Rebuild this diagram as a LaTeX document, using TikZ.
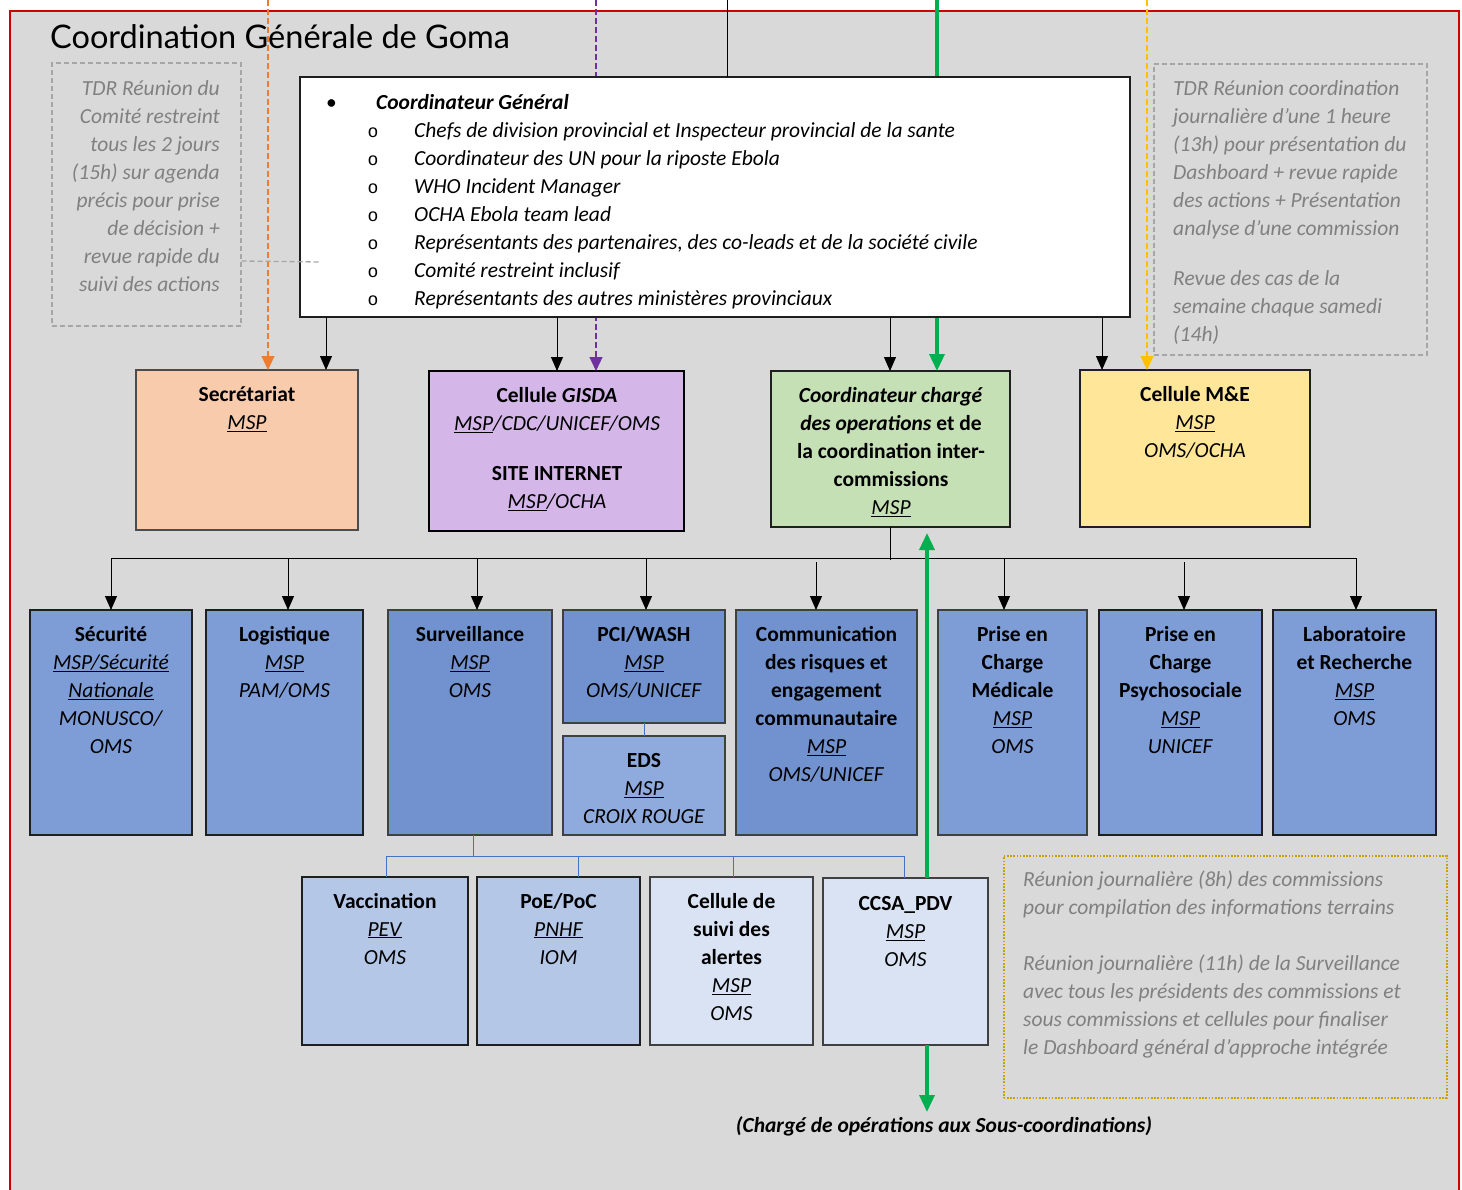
\documentclass[tikz,border=0pt]{standalone}
\usepackage{fontspec}
\setmainfont{Carlito}
\newfontfamily\titlefont{Lato}
\newfontfamily\monof{Liberation Mono}
\usetikzlibrary{arrows.meta,calc}
\definecolor{bgg}{HTML}{D9D9D9}
\definecolor{redb}{HTML}{D00000}
\definecolor{orl}{HTML}{ED7D31}
\definecolor{pul}{HTML}{7030A0}
\definecolor{grl}{HTML}{00B050}
\definecolor{yel}{HTML}{FFC000}
\definecolor{dashg}{HTML}{A6A6A6}
\definecolor{txtg}{HTML}{808080}
\definecolor{gold}{HTML}{C9A000}
\definecolor{bll}{HTML}{4472C4}
\definecolor{fsec}{HTML}{F8CBAD}
\definecolor{fgis}{HTML}{D4B6E9}
\definecolor{fcoc}{HTML}{C5E0B4}
\definecolor{fme}{HTML}{FFE699}
\definecolor{fdark}{HTML}{7192CE}
\definecolor{flight}{HTML}{7E9DD6}
\definecolor{feds}{HTML}{8FAADC}
\definecolor{fmid}{HTML}{B4C7E7}
\definecolor{fpale}{HTML}{DAE3F3}
\newcommand\mkbox[6]{\node[boxst,#6,minimum width={#4-#2},minimum height={#5-#3}] (#1) at (#2,#3) {};}
\newcommand\ul[1]{\underline{\textit{#1}}}
\newcommand\subb{\hspace*{40pt}\makebox[48pt][l]{\hspace*{1.5pt}\monof\fontsize{18}{28}\selectfont o}}
\begin{document}
\begin{tikzpicture}[x=1pt,y=-1pt,
  boxst/.style={draw=black!88, line width=1.8pt, anchor=north west, inner sep=0pt, outer sep=0pt},
  txt/.style={anchor=north, align=center, inner sep=0pt, font=\fontsize{21.5}{28}\selectfont},
  gtxt/.style={inner sep=0pt, text=txtg, font=\fontsize{21.5}{28}\selectfont\itshape},
  arr/.style={draw=black, line width=1pt, -{Triangle[length=14pt,width=12pt]}},
  garr/.style={draw=grl, line width=3.5pt, -{Triangle[length=17pt,width=15pt]}},
  dashl/.style={line width=1.1pt, dash pattern=on 6pt off 3pt, -{Triangle[length=14pt,width=13pt]}},
  graybox/.style={draw=dashg, line width=1.6pt, dash pattern=on 5pt off 3pt},
  bline/.style={draw=bll, line width=1pt}]
\useasboundingbox (0,0) rectangle (1462,1189);
\fill[white] (0,0) rectangle (1462,1189);
\fill[bgg] (10,11) rectangle (1459,1195);
\draw[redb, line width=2.6pt] (10,1195) -- (10,11) -- (1459,11) -- (1459,1195);

% title
\node[anchor=base west, inner sep=0pt, font=\titlefont\fontsize{32.5}{38}\selectfont] (title) at (50,48) {Coordination Générale de Goma};

% free ends at top
\coordinate (tO) at (268,0);
\coordinate (tP) at (596,0);
\coordinate (tK) at (727,0);
\coordinate (tG) at (937,0);
\coordinate (tY) at (1147,0);

% second-row boxes
\mkbox{sec}{136}{370}{358}{530}{fill=fsec, draw=black!70, line width=1.3pt}
\mkbox{gis}{429}{371}{684}{531}{fill=fgis, line width=2.4pt, draw=black}
\mkbox{coc}{771}{371}{1010}{527}{fill=fcoc}
\mkbox{me}{1080}{370}{1310}{527}{fill=fme}

% lines from top (behind main box)
\draw[dashl, orl] (tO) -- ($(sec.north west)+(132,0)$);
\draw[dashl, pul] (tP) -- ($(gis.north west)+(167,0)$);
\draw[garr] (tG) -- ($(coc.north west)+(166,0)$);
\draw[dashl, yel] (tY) -- ($(me.north west)+(67,0)$);

% main box
\mkbox{cg}{300}{77}{1130}{317}{fill=white, line width=1.4pt}
\draw[black, line width=1pt] (tK) -- ($(cg.north west)+(427,0)$);
\node[anchor=north west, align=left, inner sep=0pt, font=\fontsize{21.5}{28}\selectfont] (cgT) at (326,89.4) {%
\strut\makebox[50pt][l]{\textbullet}\textbf{\textit{Coordinateur Général}}\\
\subb\textit{Chefs de division provincial et Inspecteur provincial de la sante}\\
\subb\textit{Coordinateur des UN pour la riposte Ebola}\\
\subb\textit{WHO Incident Manager}\\
\subb\textit{OCHA Ebola team lead}\\
\subb\textit{Représentants des partenaires, des co-leads et de la société civile}\\
\subb\textit{Comité restreint inclusif}\\
\subb\textit{Représentants des autres ministères provinciaux}};

% arrows main box -> row 2
\draw[arr] ($(cg.south west)+(26,0)$) -- ($(sec.north west)+(190,0)$);
\draw[arr] ($(cg.south west)+(257,0)$) -- ($(gis.north west)+(128,0)$);
\draw[arr] ($(cg.south west)+(590,0)$) -- ($(coc.north west)+(119,0)$);
\draw[arr] ($(cg.south west)+(802,0)$) -- ($(me.north west)+(22,0)$);

% left dashed note
\node[graybox, anchor=north west, minimum width=189, minimum height=263, inner sep=0pt] (lnote) at (51,62) {};
\node[gtxt, anchor=north east, align=right] (lnoteT) at (220,75.4) {\strut TDR Réunion du\\Comité restreint\\tous les 2 jours\\(15h) sur agenda\\précis pour prise\\de décision +\\revue rapide du\\suivi des actions};
\draw[draw=dashg, line width=1.3pt, dash pattern=on 5pt off 3pt] ($(lnote.north east)+(0,199)$) -- ($(cg.north west)+(20,185)$);

% right dashed note
\node[graybox, anchor=north west, minimum width=273, minimum height=291, inner sep=0pt] (rnote) at (1153,63) {};
\node[gtxt, anchor=north west, align=left] (rnoteT) at (1173,75.4) {\strut TDR Réunion coordination\\journalière d’une 1 heure\\(13h) pour présentation du\\Dashboard + revue rapide\\des actions + Présentation\\analyse d’une commission\\[22pt]Revue des cas de la\\semaine chaque samedi\\(14h)};

% row 2 texts
\node[txt] (secT) at (247,381.4) {\strut\textbf{Secrétariat}\\\ul{MSP}};
\node[txt] (gisT) at (557,382.4) {\strut\textbf{Cellule \textit{GISDA}}\\\ul{MSP}\textit{/CDC/UNICEF/OMS}\\[22pt]\textbf{SITE INTERNET}\\\ul{MSP}\textit{/OCHA}};
\node[txt] (cocT) at (891,382.4) {\strut\textbf{\textit{Coordinateur chargé}}\\\textbf{\textit{des operations} et de}\\\textbf{la coordination inter-}\\\textbf{commissions}\\\ul{MSP}};
\node[txt] (meT) at (1195,381.4) {\strut\textbf{Cellule M\&E}\\\ul{MSP}\\\textit{OMS/OCHA}};

% row 3 boxes
\mkbox{sect}{30}{610}{192}{835}{fill=flight}
\mkbox{log}{206}{610}{363}{835}{fill=flight}
\mkbox{surv}{388}{610}{552}{835}{fill=fdark, draw=black!75, line width=1.4pt}
\mkbox{pci}{563}{610}{725}{723}{fill=fdark, draw=black!75, line width=1.4pt}
\mkbox{eds}{563}{736}{725}{835}{fill=feds, draw=black!75, line width=1.4pt}
\mkbox{com}{736}{610}{917}{835}{fill=fdark, draw=black!75, line width=1.4pt}
\mkbox{pcm}{938}{610}{1087}{835}{fill=flight, draw=black!75, line width=1.4pt}
\mkbox{psy}{1099}{610}{1262}{835}{fill=flight}
\mkbox{lab}{1273}{610}{1436}{835}{fill=flight}

% bus
\coordinate (busL) at (111,558);
\coordinate (busR) at (1356,558);
\draw[black, line width=1pt] ($(coc.south west)+(119,0)$) -- ++(0,33);
\draw[black, line width=1pt] (busL) -- (busR);
\draw[arr] (busL) -- ($(sect.north west)+(81,0)$);
\draw[arr] ($(log.north west)+(82,-52)$) -- ($(log.north west)+(82,0)$);
\draw[arr] ($(surv.north west)+(89,-52)$) -- ($(surv.north west)+(89,0)$);
\draw[arr] ($(pci.north west)+(83,-52)$) -- ($(pci.north west)+(83,0)$);
\draw[arr] ($(com.north west)+(80,-48)$) -- ($(com.north west)+(80,0)$);
\draw[arr] ($(pcm.north west)+(66,-52)$) -- ($(pcm.north west)+(66,0)$);
\draw[arr] ($(psy.north west)+(85,-48)$) -- ($(psy.north west)+(85,0)$);
\draw[arr] (busR) -- ($(lab.north west)+(83,0)$);
\draw[bline] (pci.south) -- (eds.north);

% row 3 texts
\node[txt] (sectT) at (111,621.4) {\strut\textbf{Sécurité}\\\ul{MSP/Sécurité}\\\ul{Nationale}\\\textit{MONUSCO/}\\\textit{OMS}};
\node[txt] (logT) at (284.5,621.4) {\strut\textbf{Logistique}\\\ul{MSP}\\\textit{PAM/OMS}};
\node[txt] (survT) at (470,621.4) {\strut\textbf{Surveillance}\\\ul{MSP}\\\textit{OMS}};
\node[txt] (pciT) at (644,621.4) {\strut\textbf{PCI/WASH}\\\ul{MSP}\\\textit{OMS/UNICEF}};
\node[txt] (edsT) at (644,747.4) {\strut\textbf{EDS}\\\ul{MSP}\\\textit{CROIX ROUGE}};
\node[txt] (comT) at (826.5,621.4) {\strut\textbf{Communication}\\\textbf{des risques et}\\\textbf{engagement}\\\textbf{communautaire}\\\ul{MSP}\\\textit{OMS/UNICEF}};
\node[txt] (pcmT) at (1012.5,621.4) {\strut\textbf{Prise en}\\\textbf{Charge}\\\textbf{Médicale}\\\ul{MSP}\\\textit{OMS}};
\node[txt] (psyT) at (1180.5,621.4) {\strut\textbf{Prise en}\\\textbf{Charge}\\\textbf{Psychosociale}\\\ul{MSP}\\\textit{UNICEF}};
\node[txt] (labT) at (1354.5,621.4) {\strut\textbf{Laboratoire}\\\textbf{et Recherche}\\\ul{MSP}\\\textit{OMS}};

% row 4 boxes
\mkbox{vac}{302}{877}{468}{1045}{fill=fmid}
\mkbox{poe}{477}{877}{640}{1045}{fill=fmid}
\mkbox{csa}{650}{877}{813}{1045}{fill=fpale, draw=black!75, line width=1.4pt}
\mkbox{ccsa}{823}{878}{988}{1045}{fill=fpale, draw=black!75, line width=1.4pt}
\draw[bline] ($(surv.south west)+(85,0)$) -- ++(0,21);
\draw[bline] ($(vac.north west)+(84,0)$) |- ($(ccsa.north west)+(81,-22)$) -- ($(ccsa.north west)+(81,0)$);
\draw[bline] ($(poe.north west)+(101,-21)$) -- ($(poe.north west)+(101,0)$);
\draw[bline] ($(csa.north west)+(83,-21)$) -- ($(csa.north west)+(83,0)$);

\node[txt] (vacT) at (385,888.4) {\strut\textbf{Vaccination}\\\ul{PEV}\\\textit{OMS}};
\node[txt] (poeT) at (558.5,888.4) {\strut\textbf{PoE/PoC}\\\ul{PNHF}\\\textit{IOM}};
\node[txt] (csaT) at (731.5,888.4) {\strut\textbf{Cellule de}\\\textbf{suivi des}\\\textbf{alertes}\\\ul{MSP}\\\textit{OMS}};
\node[txt] (ccsaT) at (905.5,890.4) {\strut\textbf{CCSA\_PDV}\\\ul{MSP}\\\textit{OMS}};

% green arrows
\coordinate (gUp) at (927,533);
\coordinate (gDown) at (927,1112);
\draw[garr] ($(ccsa.north west)+(104,0)$) -- (gUp);
\draw[garr] ($(ccsa.south west)+(104,0)$) -- (gDown);
\node[anchor=base, inner sep=0pt, font=\fontsize{21.5}{28}\selectfont\bfseries\itshape] (capT) at (944,1132) {(Chargé de opérations aux Sous-coordinations)};

% bottom-right dotted note
\node[draw=gold, line width=1.6pt, dash pattern=on 1.6pt off 1.6pt, anchor=north west, minimum width=443, minimum height=242, inner sep=0pt] (bnote) at (1003,855) {};
\node[gtxt, anchor=north west, align=left] (bnoteT) at (1023,866.4) {\strut Réunion journalière (8h) des commissions\\pour compilation des informations terrains\\[28pt]Réunion journalière (11h) de la Surveillance\\avec tous les présidents des commissions et\\sous commissions et cellules pour finaliser\\le Dashboard général d’approche intégrée};
\end{tikzpicture}
\end{document}
